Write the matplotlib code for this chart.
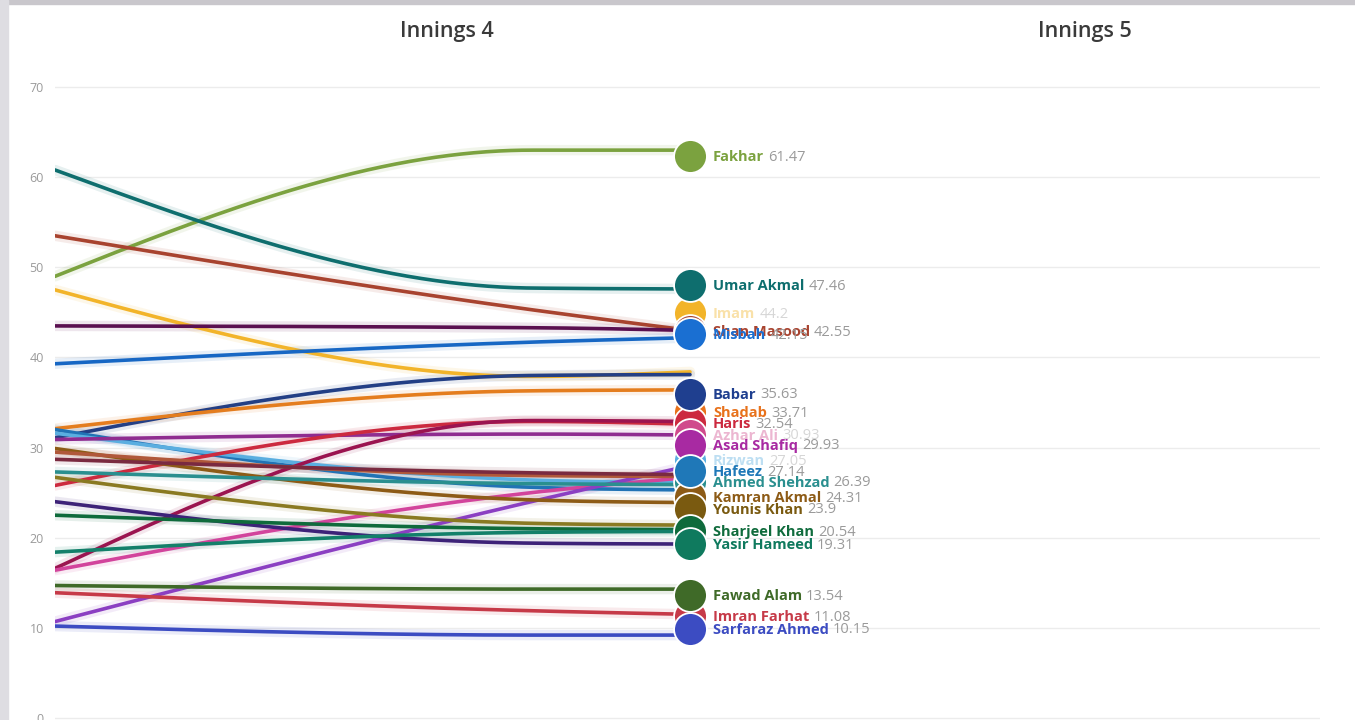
import numpy as np
import matplotlib
matplotlib.use("Agg")
import matplotlib.pyplot as plt
from matplotlib.patches import Rectangle

# ---------------- data ----------------
# Each line: value at left edge, at the intermediate knot, at current end
line_start = [49.0, 60.8, 53.5, 47.5, 43.5, 39.3, 31.1, 32.1,
              32.0, 31.6, 30.9, 25.8, 16.6, 16.4, 10.7, 29.9,
              29.5, 28.7, 27.3, 26.7, 24.0, 22.5, 18.4, 14.7, 13.9, 10.2]
line_mid = [63.0, 47.7, 45.3, 37.9, 43.3, 41.7, 38.0, 36.3,
            25.6, 26.4, 31.5, 32.9, 33.0, 25.0, 24.0, 24.2,
            26.9, 27.2, 26.0, 21.6, 19.4, 21.0, 20.6, 14.3, 11.9, 9.2]
line_end = [63.0, 47.6, 43.0, 38.4, 43.0, 42.2, 38.1, 36.4,
            25.3, 26.1, 31.4, 32.6, 32.9, 26.7, 28.0, 23.9,
            26.8, 27.0, 25.9, 21.4, 19.3, 20.9, 20.7, 14.3, 11.5, 9.2]
line_colors = ["#7ba23f", "#0e6e6e", "#a8432f", "#f2b42a", "#5a1050", "#1767c4",
               "#233f85", "#e47d1e", "#2173b5", "#5aaee0", "#8f2c90", "#cc2a3f",
               "#9b1450", "#d2449c", "#8b3fc2", "#8d5b16", "#b0583a", "#7a2a40",
               "#2a8f8f", "#8a7a22", "#3d2278", "#0f6b3c", "#13806a", "#3f6a28",
               "#c63a48", "#3c4cc2"]

dot_names = ["Fakhar", "Umar Akmal", "Imam", "Shan Masood", "Misbah", "Babar",
             "Shadab", "Haris", "Azhar Ali", "Asad Shafiq", "Rizwan", "Hafeez",
             "Ahmed Shehzad", "Kamran Akmal", "Younis Khan", "Sharjeel Khan",
             "Yasir Hameed", "Fawad Alam", "Imran Farhat", "Sarfaraz Ahmed"]
dot_values = [62.3, 48.0, 44.9, 42.9, 42.6, 36.0,
              33.9, 32.7, 31.4, 30.3, 28.6, 27.4,
              26.2, 24.5, 23.2, 20.7,
              19.3, 13.6, 11.3, 9.9]
dot_labels = ["61.47", "47.46", "44.2", "42.55", "42.15", "35.63",
              "33.71", "32.54", "30.93", "29.93", "27.05", "27.14",
              "26.39", "24.31", "23.9", "20.54",
              "19.31", "13.54", "11.08", "10.15"]
dot_colors = ["#7ba23f", "#0e6e6e", "#f2b42a", "#a8432f", "#1a6fd2", "#1f3f8f",
              "#e8721c", "#cc2a3f", "#d04a8c", "#a82aa2", "#5aaee0", "#1f78b8",
              "#2a8f8f", "#8d5b16", "#7a5a10", "#0f6b3c",
              "#0f7a5e", "#3f6a28", "#c63a48", "#3c4cc2"]

y_ticks = [0, 10, 20, 30, 40, 50, 60, 70]
headers = ["Innings 4", "Innings 5"]

# ---------------- styling / layout ----------------
faded = {"Imam", "Azhar Ali", "Rizwan"}
front = {"Fakhar", "Umar Akmal", "Misbah", "Babar", "Asad Shafiq", "Hafeez",
         "Yasir Hameed", "Fawad Alam", "Sarfaraz Ahmed"}
knots = np.array([0.0, 0.75, 1.0])


def monotone(xk, yk, num=300):
    xk = np.asarray(xk, float)
    yk = np.asarray(yk, float)
    h = np.diff(xk)
    s = np.diff(yk) / h
    m = len(xk)
    t = np.zeros(m)
    for i in range(1, m - 1):
        p = (s[i - 1] * h[i] + s[i] * h[i - 1]) / (h[i - 1] + h[i])
        sg = (1 if s[i - 1] >= 0 else -1) + (1 if s[i] >= 0 else -1)
        t[i] = sg * min(abs(s[i - 1]), abs(s[i]), 0.5 * abs(p))
    t[0] = (3 * s[0] - t[1]) / 2
    t[-1] = (3 * s[-1] - t[-2]) / 2
    xs, ys = [], []
    for i in range(m - 1):
        u = np.linspace(0, 1, num)
        h00 = 2 * u**3 - 3 * u**2 + 1
        h10 = u**3 - 2 * u**2 + u
        h01 = -2 * u**3 + 3 * u**2
        h11 = u**3 - u**2
        y = h00 * yk[i] + h10 * h[i] * t[i] + h01 * yk[i + 1] + h11 * h[i] * t[i + 1]
        xs.append(xk[i] + u * h[i])
        ys.append(y)
    return np.concatenate(xs), np.concatenate(ys)


W, H, DPI = 1355, 720, 100
fig = plt.figure(figsize=(W / DPI, H / DPI), dpi=DPI, facecolor="white")
left_px, right_px, top_px = 55, 1320, 60
ax = fig.add_axes([left_px / W, 0, (right_px - left_px) / W, (H - top_px) / H])
px_per_x = 635.0
ax.set_xlim(0, (right_px - left_px) / px_per_x)
ax.set_ylim(-0.22, 73.0)

for sp in ax.spines.values():
    sp.set_visible(False)
ax.set_xticks([])
ax.set_yticks(y_ticks)
ax.set_yticklabels([str(v) for v in y_ticks])
ax.tick_params(axis="y", length=0, pad=8, labelsize=9, labelcolor="#9a9a9a")
for lab in ax.get_yticklabels():
    lab.set_family("Open Sans")
ax.yaxis.grid(True, color="#ececec", lw=1.0)
ax.set_axisbelow(True)

for v0, v1, v2, c in zip(line_start, line_mid, line_end, line_colors):
    xs, ys = monotone(knots, [v0, v1, v2])
    ax.plot(xs, ys, color=c, lw=7.5, alpha=0.10, solid_capstyle="round", zorder=2)
    ax.plot(xs, ys, color=c, lw=2.6, solid_capstyle="round", zorder=3)

# dots
for name, v, c in zip(dot_names, dot_values, dot_colors):
    z = 6 if name in front else 5
    ax.scatter([1.0], [v], s=560, color=c, edgecolors="white", linewidths=1.3,
               zorder=z, clip_on=False)

# labels
name_texts = []
for name, v, c in zip(dot_names, dot_values, dot_colors):
    a = 0.4 if name in faded else 1.0
    t = ax.annotate(name, xy=(1.0, v), xytext=(23, -1), textcoords="offset pixels",
                    ha="left", va="center", fontsize=10.5, fontweight="bold",
                    family="Open Sans", color=c, alpha=a, zorder=7,
                    annotation_clip=False)
    name_texts.append(t)

fig.canvas.draw()
renderer = fig.canvas.get_renderer()
for t, name, v, lab in zip(name_texts, dot_names, dot_values, dot_labels):
    w = t.get_window_extent(renderer).width
    a = 0.4 if name in faded else 1.0
    ax.annotate(lab, xy=(1.0, v), xytext=(23 + w + 4, -1), textcoords="offset pixels",
                ha="left", va="center", fontsize=10.5, family="Open Sans",
                color="#9a9a9a", alpha=a, zorder=7, annotation_clip=False)

# column headers
for hdr, xpx in zip(headers, [447, 1085]):
    fig.text(xpx / W, 1 - 32 / H, hdr, ha="center", va="center", fontsize=15.5,
             family="Open Sans", fontweight="semibold", color="#3a3a3a")

# frame bands
fig.patches.append(Rectangle((0, 1 - 4 / H), 1, 4 / H, transform=fig.transFigure,
                             color="#c9c7cc", zorder=10))
fig.patches.append(Rectangle((0, 0), 8 / W, 1, transform=fig.transFigure,
                             color="#dedde2", zorder=10))

fig.savefig("out.png", dpi=DPI, facecolor="white")
